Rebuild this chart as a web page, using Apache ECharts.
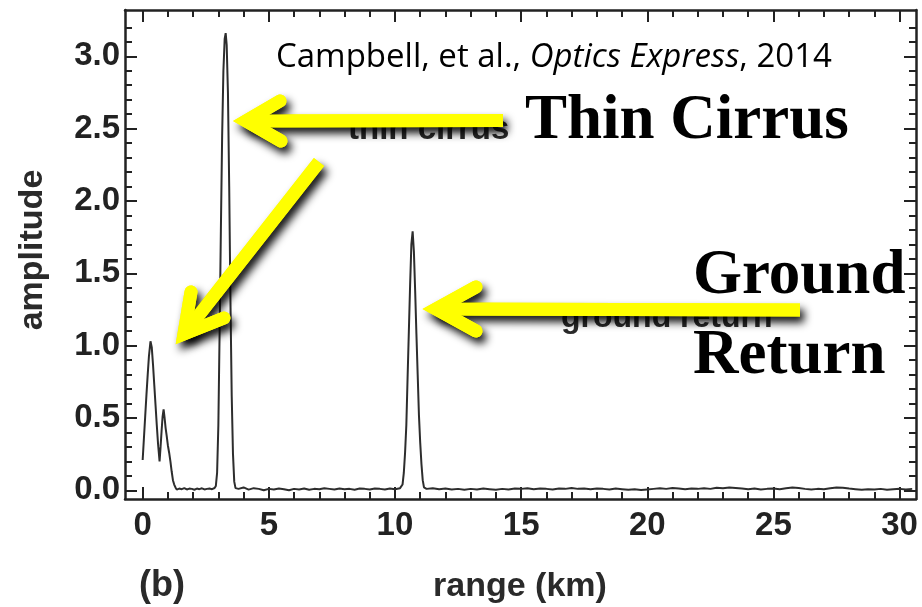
<!DOCTYPE html>
<html>
<head>
<meta charset="utf-8">
<script src="https://cdn.jsdelivr.net/npm/echarts@6/dist/echarts.min.js"></script>
<style>
  html, body { margin: 0; padding: 0; background: #ffffff; }
  #chart { width: 922px; height: 607px; }
</style>
</head>
<body>
<div id="chart"></div>
<script>
// Lidar return profile: range along the beam (km) and received amplitude
const rangeKm = [
  // near-field returns
  0.00, 0.05, 0.10, 0.15, 0.20, 0.25, 0.31, 0.36, 0.41, 0.46, 0.51, 0.56, 0.61, 0.67,
  0.71, 0.75, 0.79, 0.83, 0.87, 0.91, 0.95, 1.00, 1.05, 1.10, 1.15, 1.20, 1.25, 1.30, 1.35, 1.40,
  // clear air
  1.45, 1.55, 1.65, 1.75, 1.85, 1.95, 2.05, 2.15, 2.25, 2.35, 2.45, 2.55, 2.65, 2.75, 2.85,
  // thin cirrus layer
  2.90, 2.95, 3.00, 3.05, 3.10, 3.15, 3.20, 3.25, 3.29, 3.33, 3.38, 3.43, 3.48, 3.53, 3.58, 3.63, 3.68,
  // clear air
  3.80, 4.00, 4.20, 4.40, 4.60, 4.80, 5.00, 5.20, 5.40, 5.60, 5.80, 6.00, 6.20, 6.40, 6.60, 6.80,
  7.00, 7.20, 7.40, 7.60, 7.80, 8.00, 8.20, 8.40, 8.60, 8.80, 9.00, 9.20, 9.40, 9.60, 9.80, 10.00, 10.20,
  // ground return
  10.25, 10.30, 10.35, 10.40, 10.45, 10.50, 10.55, 10.60, 10.65, 10.70, 10.75, 10.80, 10.85,
  10.90, 10.95, 11.00, 11.05, 11.10, 11.15,
  // below ground: noise floor
  11.25, 11.50, 11.75, 12.00, 12.25, 12.50, 12.75, 13.00, 13.25, 13.50, 13.75, 14.00, 14.25, 14.50,
  14.75, 15.00, 15.25, 15.50, 15.75, 16.00, 16.25, 16.50, 16.75, 17.00, 17.25, 17.50, 17.75, 18.00,
  18.25, 18.50, 18.75, 19.00, 19.25, 19.50, 19.75, 20.00, 20.25, 20.50, 20.75, 21.00, 21.25, 21.50,
  21.75, 22.00, 22.25, 22.50, 22.75, 23.00, 23.25, 23.50, 23.75, 24.00, 24.25, 24.50, 24.75, 25.00,
  25.25, 25.50, 25.75, 26.00, 26.25, 26.50, 26.75, 27.00, 27.25, 27.50, 27.75, 28.00, 28.25, 28.50,
  28.75, 29.00, 29.25, 29.50, 29.75, 30.00, 30.25, 30.50
];

const amplitude = [
  0.21, 0.36, 0.51, 0.66, 0.80, 0.93, 1.03, 0.99, 0.87, 0.73, 0.59, 0.45, 0.32, 0.20,
  0.30, 0.41, 0.51, 0.56, 0.50, 0.43, 0.38, 0.31, 0.26, 0.20, 0.13, 0.07, 0.04, 0.02, 0.005, 0.01,
  0.012, 0.008, 0.015, 0.006, 0.012, 0.010, 0.004, 0.012, 0.008, 0.014, 0.006, 0.010, 0.012, 0.008, 0.016,
  0.03, 0.12, 0.45, 1.10, 1.80, 2.45, 2.90, 3.12, 3.16, 3.08, 2.75, 2.10, 1.30, 0.65, 0.25, 0.06, 0.015,
  0.010, 0.020, 0.005, 0.015, 0.010, 0.000, 0.010, 0.005, 0.012, 0.008, 0.000, 0.010, 0.006, 0.012, 0.004, 0.010,
  0.008, 0.015, 0.010, 0.005, 0.012, 0.008, 0.010, 0.004, 0.012, 0.010, 0.006, 0.012, 0.010, 0.005, 0.012, 0.008, 0.015,
  0.015, 0.04, 0.12, 0.26, 0.45, 0.78, 1.10, 1.42, 1.70, 1.79, 1.65, 1.38, 1.08,
  0.80, 0.52, 0.33, 0.18, 0.07, 0.02,
  0.010, 0.015, 0.008, 0.012, 0.006, 0.010, 0.004, 0.010, 0.006, 0.012, 0.008, 0.004, 0.010, 0.006,
  0.012, 0.010, 0.015, 0.008, 0.012, 0.010, 0.006, 0.012, 0.010, 0.016, 0.010, 0.012, 0.008, 0.012,
  0.010, 0.006, 0.012, 0.008, 0.004, 0.008, 0.002, 0.006, 0.010, 0.014, 0.010, 0.016, 0.012, 0.008,
  0.012, 0.010, 0.014, 0.010, 0.018, 0.014, 0.020, 0.016, 0.012, 0.008, 0.012, 0.006, 0.010, 0.012,
  0.008, 0.014, 0.020, 0.016, 0.010, 0.006, 0.010, 0.008, 0.014, 0.020, 0.018, 0.012, 0.008, 0.004,
  0.008, 0.006, 0.010, 0.004, 0.008, 0.010, 0.006, 0.010
];

// Tick positions (labelled majors, unlabelled minors)
const xMajorTicks = [0, 5, 10, 15, 20, 25, 30];
const xMinorTicks = [1, 2, 3, 4, 6, 7, 8, 9, 11, 12, 13, 14, 16, 17, 18, 19, 21, 22, 23, 24, 26, 27, 28, 29];
const yMajorTicks = [0.0, 0.5, 1.0, 1.5, 2.0, 2.5, 3.0];
const yMinorTicks = [0.1, 0.2, 0.3, 0.4, 0.6, 0.7, 0.8, 0.9, 1.1, 1.2, 1.3, 1.4, 1.6, 1.7, 1.8, 1.9,
  2.1, 2.2, 2.3, 2.4, 2.6, 2.7, 2.8, 2.9, 3.1, 3.2];

const X_MIN = -0.7, X_MAX = 30.65;
const Y_MIN = -0.06, Y_MAX = 3.32;

const INK = '#222222';
const LABEL_FONT = 'Liberation Sans';

function lineDef(withLine) {
  return withLine
    ? { show: true, onZero: false, lineStyle: { color: INK, width: 2.5 } }
    : { show: false, onZero: false };
}

function xAxisDef(position, ticks, len, withLine, withLabels) {
  return {
    type: 'value', min: X_MIN, max: X_MAX, position: position,
    axisLine: lineDef(withLine),
    axisTick: { show: true, inside: true, length: len, customValues: ticks,
                lineStyle: { color: INK, width: 2 } },
    axisLabel: withLabels ? {
      show: true, customValues: ticks, margin: 10,
      fontFamily: LABEL_FONT, fontWeight: 'bold', fontSize: 33, color: INK,
      formatter: v => String(Math.round(v))
    } : { show: false },
    splitLine: { show: false }
  };
}

function yAxisDef(position, ticks, len, withLine, withLabels) {
  return {
    type: 'value', min: Y_MIN, max: Y_MAX, position: position,
    axisLine: lineDef(withLine),
    axisTick: { show: true, inside: true, length: len, customValues: ticks,
                lineStyle: { color: INK, width: 2 } },
    axisLabel: withLabels ? {
      show: true, customValues: ticks, margin: 5,
      fontFamily: LABEL_FONT, fontWeight: 'bold', fontSize: 33, color: INK,
      formatter: v => v.toFixed(1)
    } : { show: false },
    splitLine: { show: false }
  };
}

// Yellow callout arrows with a soft black drop shadow
function arrow(shaft, head) {
  const shadow = { shadowBlur: 8, shadowColor: 'rgba(0,0,0,0.95)', shadowOffsetX: 4, shadowOffsetY: 6 };
  const shaftStyle = { stroke: '#ffff00', fill: null, lineWidth: 13, lineCap: 'butt' };
  const headStyle = { stroke: '#ffff00', fill: null, lineWidth: 13, lineCap: 'round', lineJoin: 'miter', miterLimit: 10 };
  return [
    { type: 'polyline', z: 100, shape: { points: shaft }, style: Object.assign({}, shaftStyle, shadow) },
    { type: 'polyline', z: 100, shape: { points: head }, style: Object.assign({}, headStyle, shadow) },
    { type: 'polyline', z: 101, shape: { points: shaft }, style: shaftStyle },
    { type: 'polyline', z: 101, shape: { points: head }, style: headStyle }
  ];
}

const chart = echarts.init(document.getElementById('chart'), null, { renderer: 'canvas' });

const option = {
  animation: false,
  backgroundColor: '#ffffff',
  grid: { left: 125, right: 6, top: 10, bottom: 108, containLabel: false, outerBoundsMode: 'none' },
  xAxis: [
    xAxisDef('bottom', xMajorTicks, 12, true, true),
    xAxisDef('bottom', xMinorTicks, 7, false, false),
    xAxisDef('top', xMajorTicks, 12, true, false),
    xAxisDef('top', xMinorTicks, 7, false, false)
  ],
  yAxis: [
    yAxisDef('left', yMajorTicks, 12, true, true),
    yAxisDef('left', yMinorTicks, 7, false, false),
    yAxisDef('right', yMajorTicks, 12, true, false),
    yAxisDef('right', yMinorTicks, 7, false, false)
  ],
  series: [{
    type: 'line',
    xAxisIndex: 0, yAxisIndex: 0,
    data: rangeKm.map((r, i) => [r, amplitude[i]]),
    showSymbol: false, symbol: 'none',
    lineStyle: { color: '#2d2d2d', width: 2 },
    clip: true, z: 2
  }],
  graphic: [
    // axis titles and panel tag
    { type: 'text', x: 33, y: 250, rotation: Math.PI / 2, z: 50,
      style: { text: 'amplitude', fontFamily: LABEL_FONT, fontWeight: 'bold', fontSize: 34,
               fill: '#2a2a2a', align: 'center', verticalAlign: 'middle' } },
    { type: 'text', x: 520, y: 587, z: 50,
      style: { text: 'range (km)', fontFamily: LABEL_FONT, fontWeight: 'bold', fontSize: 34,
               fill: '#2a2a2a', align: 'center', verticalAlign: 'middle' } },
    { type: 'text', x: 139, y: 586, z: 50,
      style: { text: '(b)', fontFamily: LABEL_FONT, fontWeight: 'bold', fontSize: 36,
               fill: '#2a2a2a', align: 'left', verticalAlign: 'middle' } },
    // in-plot legend labels
    { type: 'text', x: 348, y: 130, z: 90,
      style: { text: 'thin cirrus', fontFamily: LABEL_FONT, fontWeight: 'bold', fontSize: 33,
               fill: '#2a2a2a', align: 'left', verticalAlign: 'middle' } },
    { type: 'text', x: 561, y: 318, z: 90,
      style: { text: 'ground return', fontFamily: LABEL_FONT, fontWeight: 'bold', fontSize: 32,
               fill: '#2a2a2a', align: 'left', verticalAlign: 'middle' } },
    // citation
    { type: 'text', x: 276, y: 58, z: 110,
      style: {
        text: '{r|Campbell, et al., }{i|Optics Express}{r|, 2014}',
        verticalAlign: 'middle', align: 'left',
        rich: {
          r: { fontFamily: 'Open Sans', fontSize: 33, fill: '#000000' },
          i: { fontFamily: 'Open Sans', fontStyle: 'italic', fontSize: 33, fill: '#000000' }
        }
      } },
    // callout captions
    { type: 'text', x: 525, y: 122, z: 110,
      style: { text: 'Thin Cirrus', fontFamily: 'Liberation Serif', fontWeight: 'bold', fontSize: 63,
               fill: '#000000', align: 'left', verticalAlign: 'middle' } },
    { type: 'text', x: 693, y: 277, z: 110,
      style: { text: 'Ground', fontFamily: 'Liberation Serif', fontWeight: 'bold', fontSize: 63,
               fill: '#000000', align: 'left', verticalAlign: 'middle' } },
    { type: 'text', x: 693, y: 357, z: 110,
      style: { text: 'Return', fontFamily: 'Liberation Serif', fontWeight: 'bold', fontSize: 63,
               fill: '#000000', align: 'left', verticalAlign: 'middle' } },
    // arrows
    ...arrow([[503, 120.5], [246, 121]], [[280, 101], [246, 121], [281, 141]]),
    ...arrow([[319, 162], [184, 334]], [[191, 292], [184, 334], [224, 318]]),
    ...arrow([[800, 310], [436, 309]], [[476, 287], [436, 309], [476, 331]])
  ]
};

chart.setOption(option);
</script>
</body>
</html>
